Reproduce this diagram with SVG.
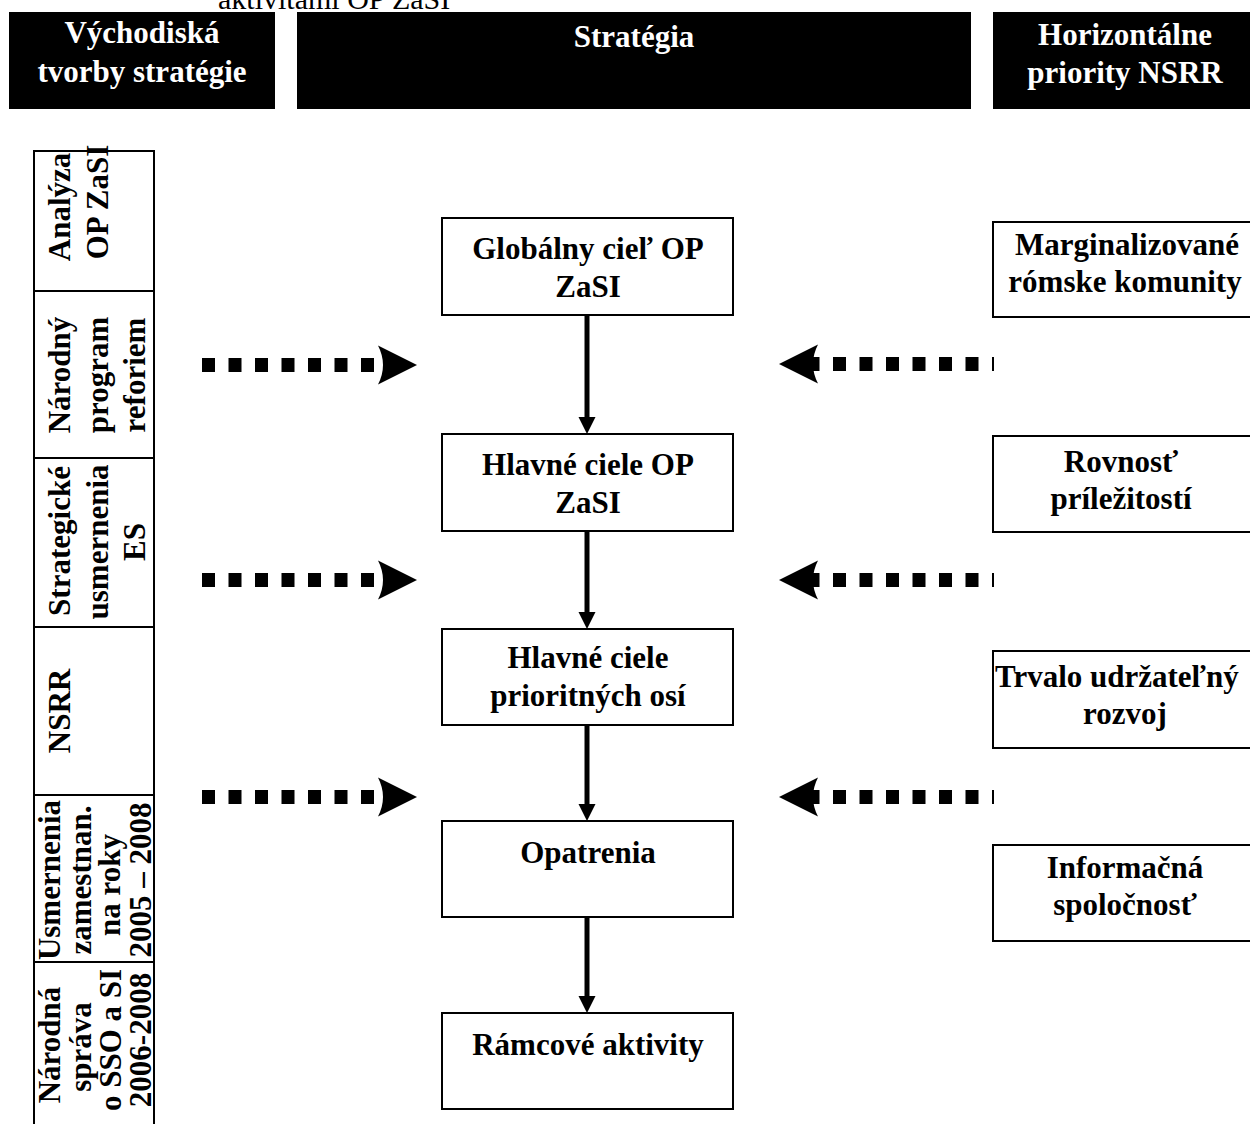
<svg xmlns="http://www.w3.org/2000/svg" width="1250" height="1124" viewBox="0 0 1250 1124">
<style>
.bar{fill:#000}
.ht{fill:#fff;font-family:"Liberation Serif","Times New Roman",serif;font-weight:bold;font-size:31px;text-anchor:middle}
.box{fill:#fff;stroke:#000;stroke-width:2}
.t{fill:#000;font-family:"Liberation Serif","Times New Roman",serif;font-weight:bold;font-size:31px;text-anchor:middle}
.vt{fill:#000;font-family:"Liberation Serif","Times New Roman",serif;font-weight:bold;font-size:31px;text-anchor:middle}
.cell{fill:none;stroke:#000;stroke-width:2}
.dash{stroke:#000;stroke-width:14;stroke-dasharray:13 13.5;fill:none}
.arr{stroke:#000;stroke-width:5;fill:none}
.top{fill:#000;font-family:"Liberation Serif","Times New Roman",serif;font-size:30px}
</style>
<defs>
<marker id="ah" markerUnits="userSpaceOnUse" markerWidth="18" markerHeight="18" refX="7" refY="8.5" orient="auto">
<path d="M0,0 L17,8.5 L0,17 Z" fill="#000"/>
</marker>
<path id="dh" d="M0,-19.5 L39,0 L0,19.5 Q10,0 0,-19.5 Z" fill="#000"/>
</defs>

<text class="top" x="218" y="9">aktivitami OP ZaSI</text>

<g id="hdr-left">
<rect class="bar" x="9" y="12" width="266" height="97"/>
<text class="ht" x="142" y="43">Východiská</text>
<text class="ht" x="142" y="82">tvorby stratégie</text>
</g>
<g id="hdr-mid">
<rect class="bar" x="297" y="12" width="674" height="97"/>
<text class="ht" x="634" y="47">Stratégia</text>
</g>
<g id="hdr-right">
<rect class="bar" x="993" y="12" width="270" height="97"/>
<text class="ht" x="1125" y="45">Horizontálne</text>
<text class="ht" x="1125" y="83">priority NSRR</text>
</g>

<g id="left-table">
<path class="cell" d="M34,1130 L34,151 L154,151 L154,1130 M34,291 L154,291 M34,458 L154,458 M34,627 L154,627 M34,795 L154,795 M34,962 L154,962"/>
<g id="cell-analyza">
<text class="vt" transform="translate(70,207) rotate(-90)">Analýza</text>
<text class="vt" transform="translate(108,202) rotate(-90)">OP ZaSI</text>
</g>
<g id="cell-npr">
<text class="vt" transform="translate(70,375) rotate(-90)">Národný</text>
<text class="vt" transform="translate(108,375) rotate(-90)">program</text>
<text class="vt" transform="translate(145,375) rotate(-90)">reforiem</text>
</g>
<g id="cell-sues">
<text class="vt" transform="translate(70,541) rotate(-90)">Strategické</text>
<text class="vt" transform="translate(108,542) rotate(-90)">usmernenia</text>
<text class="vt" transform="translate(145,542) rotate(-90)">ES</text>
</g>
<g id="cell-nsrr">
<text class="vt" transform="translate(70,711) rotate(-90)">NSRR</text>
</g>
<g id="cell-usm">
<text class="vt" transform="translate(60,880) rotate(-90)">Usmernenia</text>
<text class="vt" transform="translate(91,880) rotate(-90)">zamestnan.</text>
<text class="vt" transform="translate(120,885) rotate(-90)">na roky</text>
<text class="vt" transform="translate(151,880) rotate(-90)">2005 – 2008</text>
</g>
<g id="cell-ns">
<text class="vt" transform="translate(60,1045) rotate(-90)">Národná</text>
<text class="vt" transform="translate(91,1047) rotate(-90)">správa</text>
<text class="vt" transform="translate(121,1040) rotate(-90)">o SSO a SI</text>
<text class="vt" transform="translate(151,1040) rotate(-90)">2006-2008</text>
</g>
</g>

<g id="n-global">
<rect class="box" x="442" y="218" width="291" height="97"/>
<text class="t" x="588" y="259">Globálny cieľ OP</text>
<text class="t" x="588" y="297">ZaSI</text>
</g>
<g id="n-hlavne">
<rect class="box" x="442" y="434" width="291" height="97"/>
<text class="t" x="588" y="475">Hlavné ciele OP</text>
<text class="t" x="588" y="513">ZaSI</text>
</g>
<g id="n-osi">
<rect class="box" x="442" y="629" width="291" height="96"/>
<text class="t" x="588" y="668">Hlavné ciele</text>
<text class="t" x="588" y="706">prioritných osí</text>
</g>
<g id="n-opatrenia">
<rect class="box" x="442" y="821" width="291" height="96"/>
<text class="t" x="588" y="863">Opatrenia</text>
</g>
<g id="n-ramcove">
<rect class="box" x="442" y="1013" width="291" height="96"/>
<text class="t" x="588" y="1055">Rámcové aktivity</text>
</g>

<g id="r-mrk">
<rect class="box" x="993" y="222" width="300" height="95"/>
<text class="t" x="1127" y="255">Marginalizované</text>
<text class="t" x="1125" y="292">rómske komunity</text>
</g>
<g id="r-rovnost">
<rect class="box" x="993" y="436" width="300" height="96"/>
<text class="t" x="1121" y="472">Rovnosť</text>
<text class="t" x="1121" y="509">príležitostí</text>
</g>
<g id="r-tur">
<rect class="box" x="993" y="651" width="300" height="97"/>
<text class="t" x="995" y="687" style="text-anchor:start">Trvalo udržateľný</text>
<text class="t" x="1125" y="724">rozvoj</text>
</g>
<g id="r-is">
<rect class="box" x="993" y="845" width="300" height="96"/>
<text class="t" x="1125" y="878">Informačná</text>
<text class="t" x="1125" y="915">spoločnosť</text>
</g>

<g id="connectors">
<line class="arr" x1="587" y1="315" x2="587" y2="424" marker-end="url(#ah)"/>
<line class="arr" x1="587" y1="531" x2="587" y2="619" marker-end="url(#ah)"/>
<line class="arr" x1="587" y1="725" x2="587" y2="811" marker-end="url(#ah)"/>
<line class="arr" x1="587" y1="917" x2="587" y2="1003" marker-end="url(#ah)"/>

<line class="dash" x1="202" y1="365" x2="375" y2="365"/>
<use href="#dh" transform="translate(378,365)"/>
<line class="dash" x1="202" y1="580" x2="375" y2="580"/>
<use href="#dh" transform="translate(378,580)"/>
<line class="dash" x1="202" y1="797" x2="375" y2="797"/>
<use href="#dh" transform="translate(378,797)"/>

<line class="dash" x1="994" y1="364" x2="806" y2="364" stroke-dashoffset="11"/>
<use href="#dh" transform="translate(818,364) scale(-1,1)"/>
<line class="dash" x1="994" y1="580" x2="806" y2="580" stroke-dashoffset="11"/>
<use href="#dh" transform="translate(818,580) scale(-1,1)"/>
<line class="dash" x1="994" y1="797" x2="806" y2="797" stroke-dashoffset="11"/>
<use href="#dh" transform="translate(818,797) scale(-1,1)"/>
</g>
</svg>
